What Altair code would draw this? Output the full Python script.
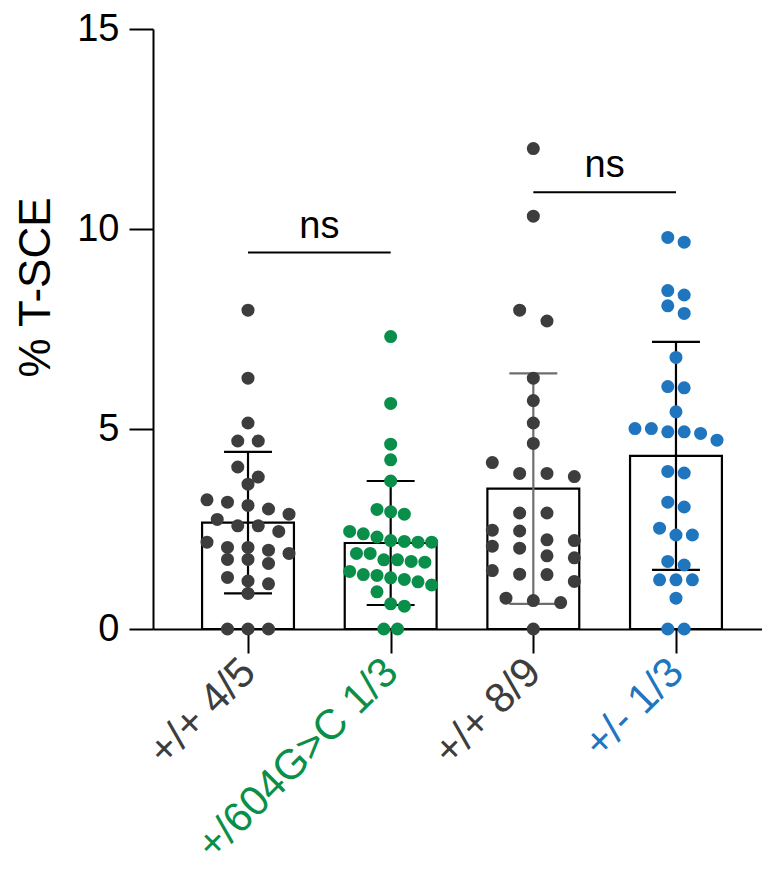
import json
import altair as alt
import pandas as pd

# ---------------- data ----------------
groups = ["+/+ 4/5", "+/604G>C 1/3", "+/+ 8/9", "+/- 1/3"]

g1_values = [7.97, 6.27, 5.15, 4.70, 4.70, 4.05, 3.80, 3.62, 3.23, 3.17, 3.09, 3.00,
             2.87, 2.74, 2.58, 2.58, 2.44, 2.17, 2.04, 2.04, 1.97, 1.89, 1.74, 1.74,
             1.64, 1.29, 1.20, 1.13, 0.89, 0.0, 0.0, 0.0]
g2_values = [7.31, 5.64, 4.62, 4.23, 3.70, 2.99, 2.93, 2.87, 2.44, 2.38, 2.30, 2.21,
             2.19, 2.17, 2.17, 1.89, 1.89, 1.73, 1.73, 1.69, 1.67, 1.44, 1.36, 1.34,
             1.28, 1.24, 1.18, 1.10, 0.93, 0.63, 0.57, 0.0, 0.0]
g3_values = [12.01, 10.32, 7.97, 7.70, 6.27, 5.71, 5.15, 4.64, 4.16, 3.89, 3.89, 3.81,
             2.90, 2.90, 2.47, 2.45, 2.23, 2.21, 2.07, 2.02, 1.83, 1.78, 1.46, 1.37,
             1.36, 1.19, 0.77, 0.71, 0.66, 0.0]
g4_values = [9.79, 9.67, 8.46, 8.35, 8.08, 7.89, 6.79, 6.06, 6.03, 5.43, 5.01, 5.01,
             4.93, 4.93, 4.89, 4.72, 3.94, 3.90, 3.17, 3.05, 2.52, 2.35, 2.35, 1.69,
             1.60, 1.23, 1.23, 1.23, 0.77, 0.0, 0.0]

means = [2.66, 2.15, 3.51, 4.33]
sds = [1.77, 1.55, 2.88, 2.85]

sig_start = [0, 2]
sig_end = [1, 3]
sig_y = [9.41, 10.92]
sig_label = ["ns", "ns"]

y_ticks = [0, 5, 10, 15]

# ---------------- styling ----------------
FONT = "Liberation Sans"
GRAY = "#3d3d3d"
GREEN = "#0a8f4a"
BLUE = "#1f76be"
dot_colors = [GRAY, GREEN, GRAY, BLUE]
err_colors = ["#000000", "#000000", "#6e6e6e", "#000000"]

BAR_HALF = 0.322
CAP_HALF = 0.168
SWARM_SPAN = 0.575
ROW_H = 0.37


def swarm(values):
    """Prism-like scatter layout: rows of close values spread symmetrically."""
    order = sorted(range(len(values)), key=lambda i: -values[i])
    rows = []
    for i in order:
        if rows and values[rows[-1][0]] - values[i] <= ROW_H:
            rows[-1].append(i)
        else:
            rows.append([i])
    maxn = max(len(r) for r in rows)
    step = SWARM_SPAN / (maxn - 1) if maxn > 1 else 0.0
    step = min(step, 0.2)
    offs = [0.0] * len(values)
    for r in rows:
        n = len(r)
        for k, i in enumerate(r):
            offs[i] = (k - (n - 1) / 2) * step
    return offs


rows = []
for gi, vals in enumerate([g1_values, g2_values, g3_values, g4_values]):
    offs = swarm(vals)
    for v, o in zip(vals, offs):
        rows.append({"group": groups[gi], "idx": gi, "value": v, "xpos": gi + o})
pts = pd.DataFrame(rows)

bars = pd.DataFrame({"group": groups, "idx": list(range(len(groups))),
                     "mean": means, "sd": sds})
sig = pd.DataFrame({"start": sig_start, "end": sig_end, "y": sig_y, "label": sig_label})

xscale = alt.Scale(domain=[-0.666, 3.603], nice=False, zero=False)
yscale = alt.Scale(domain=[0, 15], nice=False, zero=True)

label_expr = json.dumps(groups) + "[datum.value]"

x_axis = alt.Axis(
    values=[0, 1, 2, 3], labelExpr=label_expr, title=None, grid=False,
    tickSize=24, tickWidth=2, tickColor="black", domainWidth=2, domainColor="black",
    labelFont=FONT, labelFontSize=42, labelAngle=-45, labelAlign="right",
    labelBaseline="middle", labelPadding=12, labelFlush=False, labelOverlap=False,
    labelLimit=600,
    labelColor={"condition": [{"test": "datum.value == 1", "value": GREEN},
                              {"test": "datum.value == 3", "value": BLUE}],
                "value": GRAY},
)
y_axis = alt.Axis(
    values=y_ticks, title="% T-SCE", grid=False,
    tickSize=24, tickWidth=2, tickColor="black", domainWidth=2, domainColor="black",
    labelFont=FONT, labelFontSize=38, labelColor="black", labelPadding=10,
    titleFont=FONT, titleFontSize=44, titleFontWeight="normal", titleColor="black",
    titleAngle=270, titleBaseline="alphabetic", titleAlign="center",
    titleX=-104, titleY=258,
)


def X(field):
    return alt.X(field, type="quantitative", scale=xscale, axis=x_axis)


def Y(field):
    return alt.Y(field, type="quantitative", scale=yscale, axis=y_axis)


base_bars = alt.Chart(bars).transform_calculate(
    left=f"datum.idx - {BAR_HALF}", right=f"datum.idx + {BAR_HALF}",
    lo="datum.mean - datum.sd", hi="datum.mean + datum.sd",
    cl=f"datum.idx - {CAP_HALF}", cr=f"datum.idx + {CAP_HALF}",
)

bar_layer = base_bars.mark_bar(fill="white", stroke="black", strokeWidth=2.2).encode(
    x=X("left"), x2="right:Q",
    y=Y("mean"), y2=alt.datum(0),
)

err_stroke = alt.Stroke("group:N", scale=alt.Scale(domain=groups, range=err_colors), legend=None)

err_line = base_bars.mark_rule(strokeWidth=2.2).encode(
    x=X("idx"), y=Y("lo"), y2="hi:Q", stroke=err_stroke,
)
cap_hi = base_bars.mark_rule(strokeWidth=2.2).encode(
    x=X("cl"), x2="cr:Q", y=Y("hi"), stroke=err_stroke,
)
cap_lo = base_bars.mark_rule(strokeWidth=2.2).encode(
    x=X("cl"), x2="cr:Q", y=Y("lo"), stroke=err_stroke,
)

dots = alt.Chart(pts).mark_circle(size=170, opacity=1).encode(
    x=X("xpos"), y=Y("value"),
    fill=alt.Fill("group:N", scale=alt.Scale(domain=groups, range=dot_colors), legend=None),
)

sig_rule = alt.Chart(sig).mark_rule(color="black", strokeWidth=2).encode(
    x=X("start"), x2="end:Q", y=Y("y"),
)
sig_text = alt.Chart(sig).transform_calculate(mid="(datum.start + datum.end) / 2").mark_text(
    font=FONT, fontSize=38, baseline="alphabetic", align="center", dy=-15, color="black"
).encode(
    x=X("mid"), y=Y("y"), text="label:N",
)

chart = alt.layer(bar_layer, err_line, cap_hi, cap_lo, dots, sig_rule, sig_text).properties(
    width=609, height=600,
    autosize=alt.AutoSizeParams(type="none"),
    padding={"left": 145, "top": 21, "right": 0, "bottom": 242},
    background="white",
).configure_view(stroke=None)

chart.save("out.html", embed_options={"renderer": "svg", "actions": False})
